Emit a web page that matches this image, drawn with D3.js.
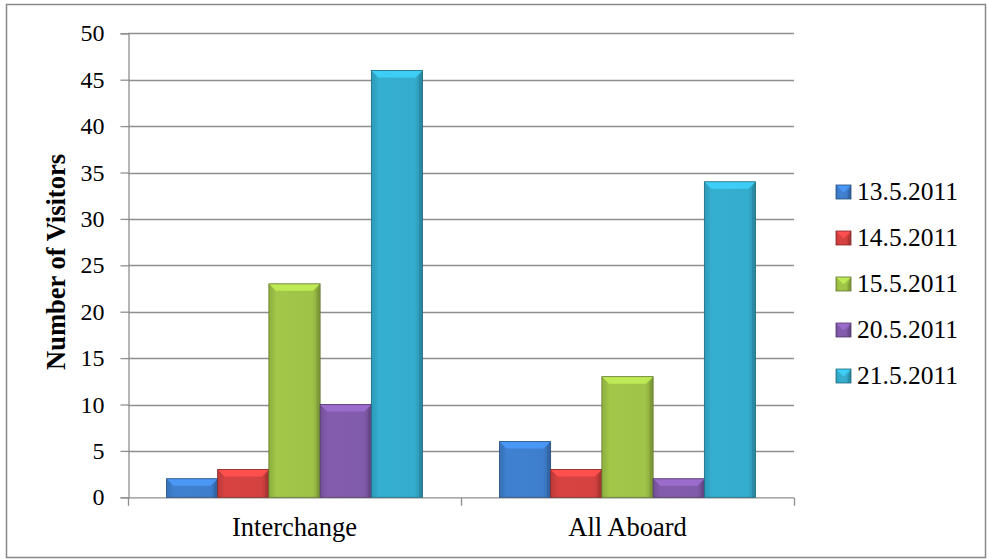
<!DOCTYPE html>
<html><head><meta charset="utf-8">
<script src="https://cdn.jsdelivr.net/npm/d3@7"></script>
<style>body{margin:0;background:#fff}svg{display:block}</style>
</head><body>
<script>
const categories = ["Interchange", "All Aboard"];
const seriesNames = ["13.5.2011", "14.5.2011", "15.5.2011", "20.5.2011", "21.5.2011"];
const s1 = [2, 6];
const s2 = [3, 3];
const s3 = [23, 13];
const s4 = [10, 2];
const s5 = [46, 34];
const seriesValues = [s1, s2, s3, s4, s5];
const yTicks = [0, 5, 10, 15, 20, 25, 30, 35, 40, 45, 50];
const colors = ["#3d7cc9", "#d0413f", "#9cc046", "#7f59a8", "#33a9c9"];

const W = 989, H = 559;
const FONT = "Liberation Serif, Times New Roman, serif";
const svg = d3.select("body").append("svg").attr("width", W).attr("height", H);
svg.append("rect").attr("x", 6.5).attr("y", 4.5).attr("width", 979).attr("height", 553)
  .attr("fill", "#fff").attr("stroke", "#888").attr("stroke-width", 1.5);

const x0 = 128, x1 = 794, yTop = 33.3, yBot = 497.3;
const x = d3.scaleBand().domain(categories).range([x0, x1]).paddingInner(0).paddingOuter(0);
const xs = d3.scaleBand().domain(seriesNames).range([0, x.bandwidth()]).paddingOuter(0.75).paddingInner(0);
const y = d3.scaleLinear().domain([0, 50]).range([yBot, yTop]);

const defs = svg.append("defs");
colors.forEach((c, i) => {
  const g = defs.append("linearGradient").attr("id", "g" + i).attr("x1", 0).attr("x2", 1).attr("y1", 0).attr("y2", 0);
  const base = d3.color(c);
  g.append("stop").attr("offset", 0).attr("stop-color", base.darker(0.3));
  g.append("stop").attr("offset", 0.15).attr("stop-color", base.brighter(0.1));
  g.append("stop").attr("offset", 0.85).attr("stop-color", base.brighter(0.05));
  g.append("stop").attr("offset", 1).attr("stop-color", base.darker(0.5));
});

// gridlines
svg.append("g").selectAll("line").data(yTicks.filter(t => t > 0)).join("line")
  .attr("x1", x0).attr("x2", x1).attr("y1", d => Math.round(y(d)) + 0.5).attr("y2", d => Math.round(y(d)) + 0.5)
  .attr("stroke", "#8e8e8e").attr("stroke-width", 1.3);

// y axis
const yAxis = d3.axisLeft(y).tickValues(yTicks).tickSize(8).tickPadding(16);
const ga = svg.append("g").attr("transform", `translate(${x0 + 0.5},0)`).call(yAxis);
ga.select(".domain").attr("stroke", "#8e8e8e").attr("stroke-width", 1.3);
ga.selectAll(".tick line").attr("stroke", "#8e8e8e").attr("stroke-width", 1.3);
ga.selectAll("text").attr("font-family", FONT).attr("font-size", 24).attr("fill", "#000");

// x axis
const xAxisG = svg.append("g").attr("transform", `translate(0,${yBot + 0.5})`);
xAxisG.append("line").attr("x1", x0).attr("x2", x1).attr("y1", 0).attr("y2", 0).attr("stroke", "#8e8e8e").attr("stroke-width", 1.3);
const bounds = categories.map(c => x(c)).concat([x1]);
xAxisG.selectAll("line.t").data(bounds).join("line").attr("class", "t")
  .attr("x1", d => d + 0.5).attr("x2", d => d + 0.5).attr("y1", 0).attr("y2", 8)
  .attr("stroke", "#8e8e8e").attr("stroke-width", 1.3);
xAxisG.selectAll("text").data(categories).join("text")
  .attr("x", d => x(d) + x.bandwidth() / 2).attr("y", 536 - yBot - 0.5).attr("text-anchor", "middle")
  .attr("font-family", FONT).attr("font-size", 26.5).text(d => d);

// y title
svg.append("text").attr("transform", `translate(65,262) rotate(-90)`).attr("text-anchor", "middle")
  .attr("font-family", FONT).attr("font-size", 26.5).attr("font-weight", "bold")
  .text("Number of Visitors");

// bars
function drawBevelBar(g, bx, by, bw, bh, i) {
  const c = d3.color(colors[i]);
  g.append("rect").attr("x", bx).attr("y", by).attr("width", bw).attr("height", bh)
    .attr("fill", `url(#g${i})`);
  const d = Math.min(7, bh / 2, bw / 2);
  g.append("polygon").attr("points", [[bx, by], [bx + bw, by], [bx + bw - d, by + d], [bx + d, by + d]].join(" "))
    .attr("fill", c.brighter(0.55));
  g.append("polygon").attr("points", [[bx, by], [bx + d * 0.4, by + d], [bx + d * 0.4, by + bh], [bx, by + bh]].join(" "))
    .attr("fill", c.darker(0.15)).attr("opacity", 0.6);
  g.append("polygon").attr("points", [[bx + bw, by], [bx + bw - d * 0.5, by + d], [bx + bw - d * 0.5, by + bh], [bx + bw, by + bh]].join(" "))
    .attr("fill", c.darker(0.7)).attr("opacity", 0.7);
  g.append("rect").attr("x", bx).attr("y", by).attr("width", bw).attr("height", bh)
    .attr("fill", "none").attr("stroke", c.darker(1.3)).attr("stroke-width", 0.8);
}
const barsG = svg.append("g");
categories.forEach((cat, ci) => {
  seriesNames.forEach((s, si) => {
    const v = seriesValues[si][ci];
    const bx = x(cat) + xs(s);
    const by = y(v);
    drawBevelBar(barsG, bx, by, xs.bandwidth(), yBot - by, si);
  });
});

// legend
const lg = svg.append("g");
seriesNames.forEach((s, i) => {
  const cy = 192 + i * 46;
  const g = lg.append("g");
  drawBevelBar(g, 836, cy - 7, 15, 14, i);
  g.append("text").attr("x", 857).attr("y", cy + 8).attr("font-family", FONT)
    .attr("font-size", 25.5).text(s);
});
</script>
</body></html>
